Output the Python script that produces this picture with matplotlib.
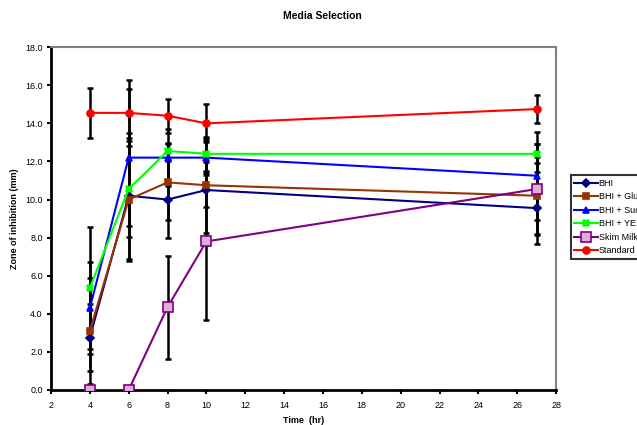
# Media selection - zone of inhibition over time

import matplotlib.pyplot as plt

plt.rcParams['font.family'] = ['Liberation Sans', 'DejaVu Sans']

times = [4, 6, 8, 10, 27]

bhi = [2.75, 10.2, 10.0, 10.5, 9.55]
bhi_err = [1.75, 3.3, 2.0, 0.9, 1.9]

glu = [3.1, 10.0, 10.9, 10.75, 10.2]
glu_err = [2.8, 3.25, 2.0, 2.5, 2.05]

suc = [4.3, 12.2, 12.2, 12.2, 11.25]
suc_err = [2.4, 3.6, 1.5, 0.9, 2.3]

ye = [5.35, 10.55, 12.55, 12.4, 12.4]
ye_err = [3.2, 2.5, 0.4, 0.9, 0.5]

skim = [0.0, 0.0, 4.35, 7.8, 10.55]
skim_err = [0.0, 0.0, 2.7, 4.15, 2.35]

std = [14.55, 14.55, 14.4, 14.0, 14.75]
std_err = [1.3, 1.75, 0.9, 1.0, 0.75]

labels = ["BHI", "BHI + Glucose", "BHI + Sucrose", "BHI + YE", "Skim Milk", "Standard"]

fig = plt.figure(figsize=(6.37, 4.25), dpi=100)
ax = fig.add_axes([0.080, 0.0824, 0.793, 0.8066])

series = [
    (bhi, bhi_err, "#000080", "D", "#000080", 4.5),
    (glu, glu_err, "#993300", "s", "#993300", 4.5),
    (suc, suc_err, "#0000FF", "^", "#0000FF", 4.5),
    (ye, ye_err, "#00FF00", "X", "#00FF00", 5),
    (skim, skim_err, "#800080", "s", "#d8b0d8", 6.5),
    (std, std_err, "#FF0000", "o", "#FF0000", 5),
]

# error bars first so the lines sit on top
for ys, errs, col, mk, mfc, ms in series:
    ax.errorbar(times, ys, yerr=errs, fmt="none", ecolor="black",
                elinewidth=1.8, capsize=2.5, capthick=1.8, zorder=2)

for (ys, errs, col, mk, mfc, ms), lab in zip(series, labels):
    ax.plot(times, ys, color=col, marker=mk, markersize=ms,
            markerfacecolor=mfc, markeredgecolor=col, markeredgewidth=1.2,
            linewidth=1.5, label=lab, zorder=3)

ax.set_xlim(2, 28)
ax.set_ylim(0, 18)
ax.set_xticks(range(2, 29, 2))
ax.set_yticks([i * 2 for i in range(10)])
ax.set_yticklabels(["%.1f" % (i * 2) for i in range(10)])
ax.tick_params(labelsize=6.5, length=3, width=1.5, direction="out", pad=3)
ax.tick_params(axis="x", pad=5)

ax.spines["left"].set_linewidth(2)
ax.spines["bottom"].set_linewidth(2)
ax.spines["top"].set_color("#808080")
ax.spines["right"].set_color("#808080")
ax.spines["top"].set_linewidth(1.5)
ax.spines["right"].set_linewidth(1.5)

ax.set_xlabel("Time  (hr)", fontsize=6.5, fontweight="bold", labelpad=4)
ax.set_ylabel("Zone of inhibition (mm)", fontsize=6.5, fontweight="bold", labelpad=4)
fig.suptitle("Media Selection", fontsize=7.5, fontweight="bold", x=0.506, y=0.975)

leg = fig.legend(loc="upper left", bbox_to_anchor=(0.896, 0.588), fontsize=6.5,
                 frameon=True, fancybox=False, borderpad=0.4, labelspacing=0.5,
                 handlelength=2.6, handletextpad=0.1, borderaxespad=0)
leg.get_frame().set_edgecolor("black")
leg.get_frame().set_linewidth(1.5)

plt.savefig("out.png", dpi=100)
